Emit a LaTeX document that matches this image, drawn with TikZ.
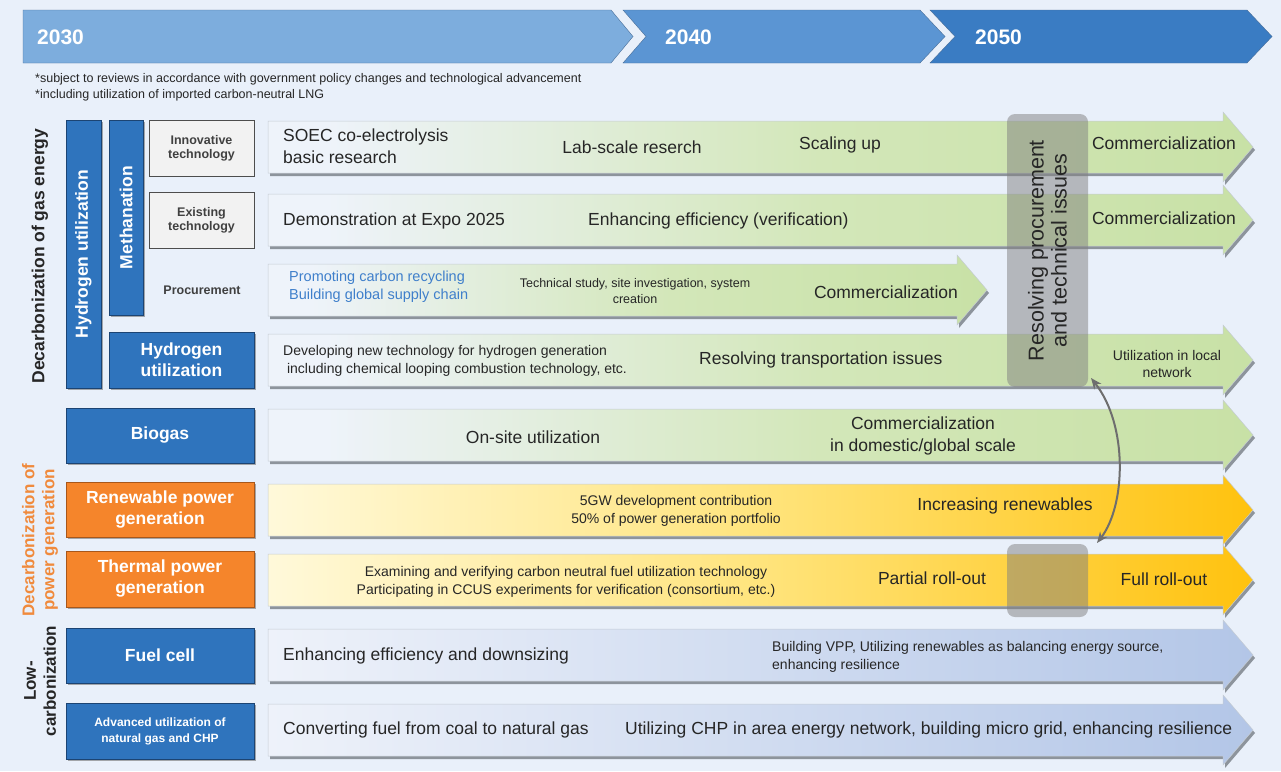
\documentclass[tikz,border=0pt]{standalone}
\usepackage{fontspec}
\setmainfont{Liberation Sans}
\usetikzlibrary{arrows.meta,shadows}
\definecolor{pagebg}{HTML}{E9F0FA}
\definecolor{year1}{HTML}{7DADDD}
\definecolor{year2}{HTML}{5B95D3}
\definecolor{year3}{HTML}{3A7CC3}
\definecolor{yearedge}{HTML}{4A6F99}
\definecolor{catblue}{HTML}{2F74BD}
\definecolor{catblueedge}{HTML}{1C4473}
\definecolor{catorange}{HTML}{F5852B}
\definecolor{catorangeedge}{HTML}{A8571A}
\definecolor{subgray}{HTML}{F2F2F2}
\definecolor{subedge}{HTML}{4D4D4D}
\definecolor{inkdark}{HTML}{262626}
\definecolor{inkgray}{HTML}{404040}
\definecolor{inkblue}{HTML}{3F7FCB}
\definecolor{inkorange}{HTML}{F08A3C}
\definecolor{barpale}{HTML}{EEF3FA}
\definecolor{bargreen}{HTML}{D3E7B9}
\definecolor{bargreendeep}{HTML}{C8E1A6}
\definecolor{ylwpale}{HTML}{FFF9DA}
\definecolor{ylwmid}{HTML}{FFE47C}
\definecolor{ylwgold}{HTML}{FFC20E}
\definecolor{bluepale}{HTML}{EEF2FA}
\definecolor{bluedeep}{HTML}{B3C6E7}
\definecolor{barshadow}{HTML}{8D949C}
\definecolor{baredge}{HTML}{C5CCD4}
\definecolor{linkgray}{HTML}{6E6E6E}
\pgfdeclarehorizontalshading{greenfade}{100bp}{color(0bp)=(barpale); color(28bp)=(barpale); color(53bp)=(bargreen); color(75bp)=(bargreendeep); color(100bp)=(bargreendeep)}
\pgfdeclarehorizontalshading{yellowfade}{100bp}{color(0bp)=(ylwpale); color(25bp)=(ylwpale); color(50bp)=(ylwmid); color(75bp)=(ylwgold); color(100bp)=(ylwgold)}
\pgfdeclarehorizontalshading{bluefade}{100bp}{color(0bp)=(bluepale); color(25bp)=(bluepale); color(75bp)=(bluedeep); color(100bp)=(bluedeep)}
% one roadmap arrow: centre y, tip x, shading
\newcommand{\roadarrow}[3]{%
  \fill[barshadow] (270,#1-23) -- (#2-28,#1-23) -- (#2-28,#1-32) -- (#2+2,#1+3) -- (#2-28,#1+38) -- (#2-28,#1+29) -- (270,#1+29) -- cycle;
  \shade[shading=#3, draw=baredge, line width=0.5pt] (268,#1-26) -- (#2-30,#1-26) -- (#2-30,#1-35) -- (#2,#1) -- (#2-30,#1+35) -- (#2-30,#1+26) -- (268,#1+26) -- cycle;
}
\tikzset{
  yeartext/.style={text=white, font=\fontsize{21}{24}\selectfont\bfseries, anchor=west, inner sep=0pt},
  notetext/.style={text=inkdark, font=\fontsize{12.5}{14}\selectfont, anchor=west, inner sep=0pt},
  catbox/.style={draw=catblueedge, fill=catblue, line width=0.8pt, text=white, align=center,
                 font=\fontsize{17.5}{21}\selectfont\bfseries, inner sep=0pt,
                 drop shadow={shadow xshift=1.5pt, shadow yshift=-1.5pt, fill=black!55, opacity=0.6}},
  powerbox/.style={catbox, draw=catorangeedge, fill=catorange},
  subbox/.style={draw=subedge, fill=subgray, line width=0.8pt, text=inkgray, align=center,
                 font=\fontsize{12.5}{14}\selectfont\bfseries, inner sep=0pt,
                 minimum width=105, minimum height=56},
  sidetext/.style={rotate=90, align=center, inner sep=0pt, text=inkdark,
                   font=\fontsize{17.5}{20}\selectfont\bfseries},
  bartext/.style={text=inkdark, font=\fontsize{17.5}{22}\selectfont, inner sep=0pt, align=center},
  smalltext/.style={text=inkdark, font=\fontsize{14}{18}\selectfont, inner sep=0pt, align=center},
  tinytext/.style={text=inkdark, font=\fontsize{12.5}{16}\selectfont, inner sep=0pt, align=center},
  issuebox/.style={fill=black!50, fill opacity=0.5, text opacity=1, rounded corners=8pt},
}
\begin{document}
\begin{tikzpicture}[x=1pt, y=-1pt]
  \useasboundingbox (0,0) rectangle (1281,771);
  \fill[pagebg] (0,0) rectangle (1281,771);

  % timeline
  \draw[yearedge, fill=year1] (23,10) -- (611,10) -- (633,36.5) -- (611,63) -- (23,63) -- cycle;
  \draw[yearedge, fill=year2] (623,10) -- (920,10) -- (945,36.5) -- (920,63) -- (623,63) -- (646,36.5) -- cycle;
  \draw[yearedge, fill=year3] (930,10) -- (1247,10) -- (1272,36.5) -- (1247,63) -- (930,63) -- (955,36.5) -- cycle;
  \node[yeartext] (y2030) at (37,37) {2030};
  \node[yeartext] (y2040) at (665,37) {2040};
  \node[yeartext] (y2050) at (975,37) {2050};
  \node[notetext] (note1) at (35,79) {*subject to reviews in accordance with government policy changes and technological advancement};
  \node[notetext] (note2) at (35,95) {*including utilization of imported carbon-neutral LNG};

  % row arrows
  \roadarrow{147}{1253}{greenfade}
  \roadarrow{220}{1253}{greenfade}
  \roadarrow{290}{987}{greenfade}
  \roadarrow{360}{1253}{greenfade}
  \roadarrow{435}{1253}{greenfade}
  \roadarrow{510}{1253}{yellowfade}
  \roadarrow{580}{1253}{yellowfade}
  \roadarrow{655}{1253}{bluefade}
  \roadarrow{730}{1253}{bluefade}

  % categories
  \node[sidetext] (gasside) at (40,256) {Decarbonization of gas energy};
  \node[sidetext, text=inkorange, font=\fontsize{17}{20}\selectfont\bfseries] (powerside) at (40,540) {Decarbonization of\\power generation};
  \node[sidetext, font=\fontsize{17}{20}\selectfont\bfseries] (lowside) at (40,681) {Low-\\carbonization};
  \node[catbox, rotate=90, minimum width=268, minimum height=35] (h2col) at (83.5,254) {Hydrogen utilization};
  \node[catbox, rotate=90, minimum width=195, minimum height=34] (methcol) at (126,217.5) {Methanation};
  \node[subbox] (innov) at (201.5,148.5) {Innovative\\technology};
  \node[subbox] (exist) at (201.5,220.5) {Existing\\technology};
  \node[text=inkgray, font=\fontsize{12.5}{14}\selectfont\bfseries] (procure) at (202,290) {Procurement};
  \node[catbox, minimum width=145, minimum height=56] (h2box) at (181.5,360) {Hydrogen\\utilization};
  \node[catbox, minimum width=188, minimum height=55] (biogas) at (160,435.5) {Biogas};
  \node[powerbox, minimum width=188, minimum height=55] (renew) at (160,509.5) {Renewable power\\generation};
  \node[powerbox, minimum width=188, minimum height=56] (thermal) at (160,579) {Thermal power\\generation};
  \node[catbox, minimum width=188, minimum height=55] (fuelcell) at (160,655.5) {Fuel cell};
  \node[catbox, minimum width=188, minimum height=56, font=\fontsize{12}{16}\selectfont\bfseries] (advgas) at (160,731) {Advanced utilization of\\natural gas and CHP};

  % texts on the arrows
  \node[bartext, anchor=west, align=left] (soec) at (283,146) {SOEC co-electrolysis\\basic research};
  \node[bartext] (labscale) at (632,147) {Lab-scale reserch};
  \node[bartext] (scaling) at (840,145) {Scaling up};
  \node[bartext] (comm1) at (1164,143) {Commercialization};
  \node[bartext, anchor=west] (expo) at (283,221) {Demonstration at Expo 2025};
  \node[bartext, anchor=west] (effic) at (588,221) {Enhancing efficiency (verification)};
  \node[bartext] (comm2) at (1164,218) {Commercialization};
  \node[smalltext, anchor=west, align=left, text=inkblue, font=\fontsize{14.5}{18}\selectfont] (recycle) at (289,287) {Promoting carbon recycling\\Building global supply chain};
  \node[tinytext] (techstudy) at (635,291) {Technical study, site investigation, system\\creation};
  \node[bartext] (comm3) at (886,292) {Commercialization};
  \node[smalltext, anchor=west, align=left] (newtech) at (283,361) {Developing new technology for hydrogen generation\\\ including chemical looping combustion technology, etc.};
  \node[bartext, anchor=west] (transport) at (699,360) {Resolving transportation issues};
  \node[smalltext, font=\fontsize{14}{17}\selectfont] (localnet) at (1167,364) {Utilization in local\\network};
  \node[bartext] (onsite) at (533,437) {On-site utilization};
  \node[bartext] (comm5) at (923,436) {Commercialization\\in domestic/global scale};
  \node[smalltext] (fivegw) at (676,511) {5GW development contribution\\50\% of power generation portfolio};
  \node[bartext] (increase) at (1005,506) {Increasing renewables};
  \node[smalltext] (examine) at (566,582) {Examining and verifying carbon neutral fuel utilization technology\\Participating in CCUS experiments for verification (consortium, etc.)};
  \node[bartext] (partial) at (932,578) {Partial roll-out};
  \node[bartext] (fullroll) at (1164,579) {Full roll-out};
  \node[bartext, anchor=west] (downsize) at (283,656) {Enhancing efficiency and downsizing};
  \node[smalltext, anchor=west, align=left] (vpp) at (772,657) {Building VPP, Utilizing renewables as balancing energy source,\\enhancing resilience};
  \node[bartext, anchor=west] (coal) at (283,730) {Converting fuel from coal to natural gas};
  \node[bartext, anchor=west] (chp) at (625,730) {Utilizing CHP in area energy network, building micro grid, enhancing resilience};

  % procurement and technical issues
  \node[issuebox, minimum width=81, minimum height=273] (issues) at (1047.5,250.5) {};
  \node[rotate=90, align=center, text=inkdark, inner sep=0pt, font=\fontsize{21.5}{23}\selectfont] (issuetext) at (issues.center) {Resolving procurement\\and technical issues};
  \node[issuebox, minimum width=81, minimum height=73] (rollgap) at (1047.5,580.5) {};
  \coordinate (linktop) at (1091,378);
  \coordinate (linkbot) at (1097,543);
  \draw[linkgray, line width=2pt, {Stealth[length=11pt,width=9pt]}-{Stealth[length=11pt,width=9pt]}]
    (linktop) .. controls (1128,425) and (1126,505) .. (linkbot);
\end{tikzpicture}
\end{document}
